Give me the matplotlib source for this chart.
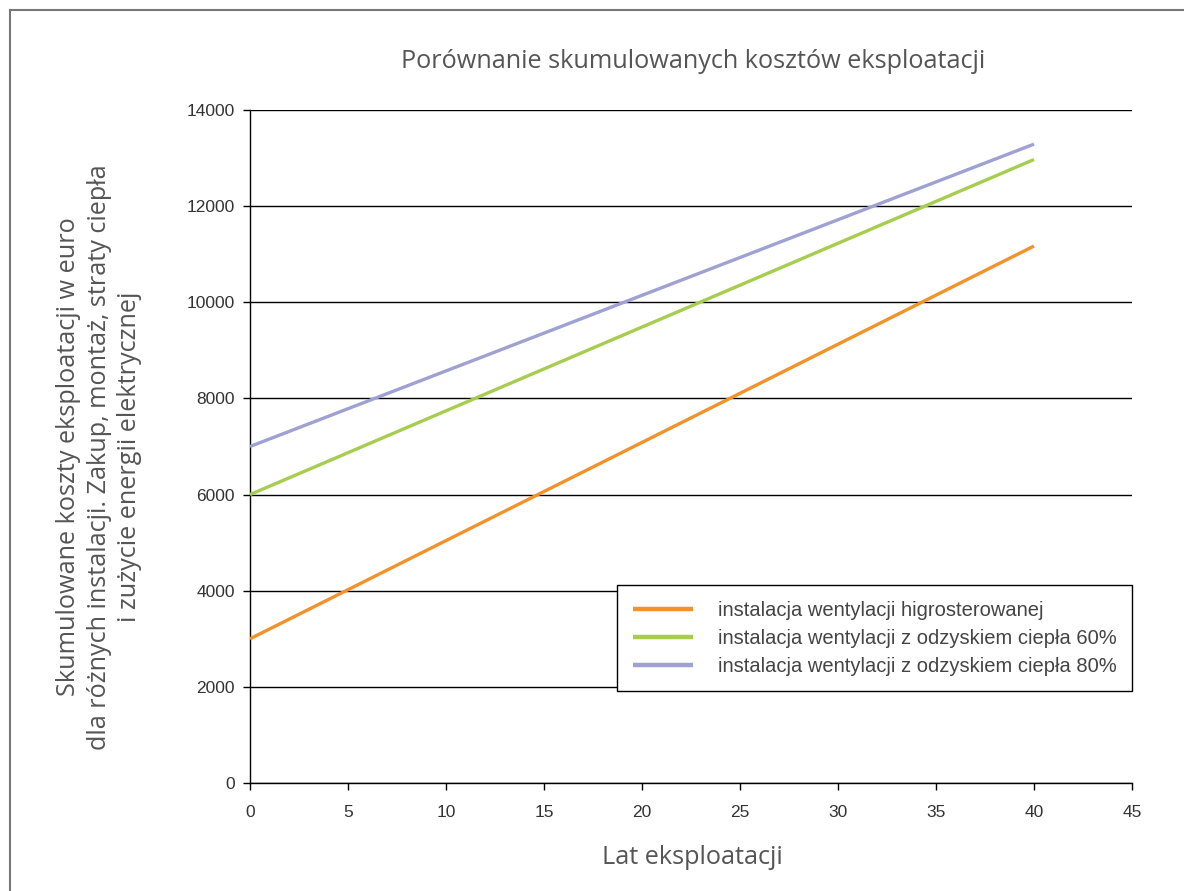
import matplotlib
matplotlib.use("Agg")
import matplotlib.pyplot as plt
from matplotlib.lines import Line2D

years = [0, 40]
higro = [3000, 11170]
rec60 = [6000, 12970]
rec80 = [7000, 13290]
series_labels = [
    "instalacja wentylacji higrosterowanej",
    "instalacja wentylacji z odzyskiem ciepła 60%",
    "instalacja wentylacji z odzyskiem ciepła 80%",
]
colors = ["#F39229", "#A6CD4E", "#9EA1D2"]
yticks = [0, 2000, 4000, 6000, 8000, 10000, 12000, 14000]
xticks = [0, 5, 10, 15, 20, 25, 30, 35, 40, 45]

text_font = ["Open Sans", "DejaVu Sans"]
gray = "#555555"
W, H = 1184, 891

fig = plt.figure(figsize=(11.84, 8.91), dpi=100)
ax = fig.add_axes([250/W, 1-783/H, 882/W, 673/H])

for ys, c, lab in zip([higro, rec60, rec80], colors, series_labels):
    ax.plot(years, ys, color=c, lw=2.4, label=lab, solid_capstyle="butt", zorder=3)

ax.set_xlim(0, 45)
ax.set_ylim(0, 14000)
ax.set_xticks(xticks)
ax.set_yticks(yticks)
ax.set_yticklabels([str(v) for v in yticks])
ax.set_xticklabels([str(v) for v in xticks])
for lbl in ax.get_xticklabels() + ax.get_yticklabels():
    lbl.set_fontfamily("Liberation Sans")
    lbl.set_fontsize(12.5)
    lbl.set_color("#333333")
ax.tick_params(axis="y", direction="out", length=5, width=1, color="black", pad=6)
ax.tick_params(axis="x", direction="out", length=5, width=1, color="black", pad=11)
ax.yaxis.grid(True, color="black", lw=1)
ax.set_axisbelow(True)
for s in ["top", "right"]:
    ax.spines[s].set_visible(False)
for s in ["left", "bottom"]:
    ax.spines[s].set_color("black")
    ax.spines[s].set_linewidth(1)

fig.text(693/W, 1-62/H, "Porównanie skumulowanych kosztów eksploatacji", family=text_font,
         fontsize=18.2, color=gray, ha="center", va="center")
fig.text(692/W, 1-858/H, "Lat eksploatacji", family=text_font, fontsize=18.2, color=gray,
         ha="center", va="center")
fig.text(99/W, 1-457/H,
         "Skumulowane koszty eksploatacji w euro\ndla różnych instalacji. Zakup, montaż, straty ciepła\ni zużycie energii elektrycznej",
         family=text_font, fontsize=18.2, color=gray, rotation=90, ha="center", va="center",
         multialignment="center", linespacing=1.3)

leg = ax.legend(loc="lower right", bbox_to_anchor=(1.0, 0.137), frameon=True, fancybox=False,
                edgecolor="black", framealpha=1, handlelength=3.0, handletextpad=1.25,
                borderpad=0.75, labelspacing=0.45, borderaxespad=0,
                prop={"family": "Liberation Sans", "size": 14.5})
leg.get_frame().set_linewidth(1)
for t in leg.get_texts():
    t.set_color("#444444")
for h in leg.get_lines():
    h.set_linewidth(3.2)

# outer frame
fig.add_artist(Line2D([10/W, 10/W], [0, 1-10/H], transform=fig.transFigure, color="#777777", lw=1.5))
fig.add_artist(Line2D([10/W, 1], [1-10/H, 1-10/H], transform=fig.transFigure, color="#777777", lw=1.5))

fig.savefig("out.png", dpi=100)
